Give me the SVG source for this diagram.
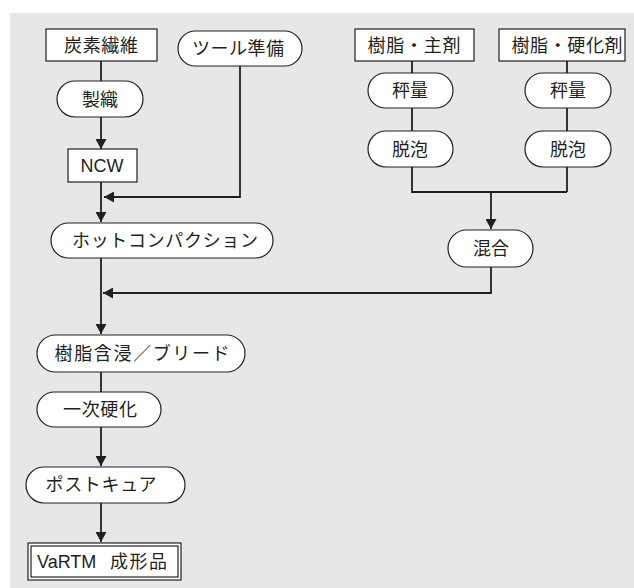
<svg xmlns="http://www.w3.org/2000/svg" width="634" height="588" viewBox="0 0 634 588">
<defs>
<style>
.bg{fill:#e6e7e8}
.n{fill:#fff;stroke:#231f20;stroke-width:1.2}
.t{font-family:"Noto Sans CJK JP","Noto Sans",sans-serif;font-size:18px;fill:#231f20;text-anchor:middle}
.s{font-family:"Noto Sans CJK JP","Noto Sans",sans-serif;font-size:18px;fill:#231f20}
.l{font-family:"Liberation Sans",Arial,sans-serif;font-size:18px;fill:#231f20;text-anchor:middle}
.c{fill:none;stroke:#231f20;stroke-width:1.8}
</style>
<marker id="ah" markerUnits="userSpaceOnUse" markerWidth="11" markerHeight="11" refX="10" refY="5.5" orient="auto" viewBox="0 0 11 11">
<path d="M0,0 L10,5.5 L0,11 z" fill="#231f20"/>
</marker>
</defs>
<rect class="bg" x="10" y="13" width="624" height="575"/>
<g id="connectors">
<path class="c" d="M101,61 V81"/>
<path class="c" d="M101,117 V149" marker-end="url(#ah)"/>
<path class="c" d="M101,182 V222" marker-end="url(#ah)"/>
<path class="c" d="M240,66 V197 H104" marker-end="url(#ah)"/>
<path class="c" d="M101,258 V334" marker-end="url(#ah)"/>
<path class="c" d="M491,267 V293 H103" marker-end="url(#ah)"/>
<path class="c" d="M412,61 V73 M412,108 V131 M412,167 V192 H567 M567,61 V73 M567,108 V131 M567,167 V192"/>
<path class="c" d="M491,192 V229" marker-end="url(#ah)"/>
<path class="c" d="M101,372 V392"/>
<path class="c" d="M101,427 V466" marker-end="url(#ah)"/>
<path class="c" d="M101,503 V542" marker-end="url(#ah)"/>
</g>
<g id="tanso">
<rect class="n" x="46" y="29" width="111" height="32"/>
<text class="t" x="101" y="52" textLength="74" lengthAdjust="spacing">炭素繊維</text>
</g>
<g id="tool">
<rect class="n" x="178" y="31" width="124" height="35" rx="17.5"/>
<text class="t" x="238" y="55" textLength="92" lengthAdjust="spacing">ツール準備</text>
</g>
<g id="seishoku">
<rect class="n" x="57" y="81" width="86" height="36" rx="18"/>
<text class="t" x="100" y="106" textLength="36" lengthAdjust="spacing">製織</text>
</g>
<g id="ncw">
<rect class="n" x="68" y="149" width="69" height="33"/>
<text class="l" x="102" y="172">NCW</text>
</g>
<g id="shuzai">
<rect class="n" x="355" y="29" width="119" height="32"/>
<text class="t" x="414" y="52" textLength="93" lengthAdjust="spacing">樹脂・主剤</text>
</g>
<g id="kokazai">
<rect class="n" x="499" y="29" width="126" height="32"/>
<text class="t" x="567" y="52" textLength="111" lengthAdjust="spacing">樹脂・硬化剤</text>
</g>
<g id="hyoryo1">
<rect class="n" x="368" y="73" width="85" height="35" rx="17.5"/>
<text class="t" x="410" y="97" textLength="36" lengthAdjust="spacing">秤量</text>
</g>
<g id="hyoryo2">
<rect class="n" x="525" y="73" width="86" height="35" rx="17.5"/>
<text class="t" x="568" y="97" textLength="36" lengthAdjust="spacing">秤量</text>
</g>
<g id="dappo1">
<rect class="n" x="368" y="131" width="85" height="36" rx="18"/>
<text class="t" x="410" y="156" textLength="36" lengthAdjust="spacing">脱泡</text>
</g>
<g id="dappo2">
<rect class="n" x="525" y="131" width="86" height="36" rx="18"/>
<text class="t" x="568" y="156" textLength="36" lengthAdjust="spacing">脱泡</text>
</g>
<g id="kongo">
<rect class="n" x="448" y="230" width="85" height="37" rx="18.5"/>
<text class="t" x="491" y="255" textLength="36" lengthAdjust="spacing">混合</text>
</g>
<g id="hot">
<rect class="n" x="51" y="223" width="222" height="35" rx="17.5"/>
<text class="t" x="165" y="247" textLength="186" lengthAdjust="spacing">ホットコンパクション</text>
</g>
<g id="ganshin">
<rect class="n" x="37" y="335" width="208" height="37" rx="18.5"/>
<text class="t" x="142" y="360" textLength="175" lengthAdjust="spacing">樹脂含浸／ブリード</text>
</g>
<g id="ichiji">
<rect class="n" x="37" y="392" width="124" height="35" rx="17.5"/>
<text class="t" x="100" y="416" textLength="74" lengthAdjust="spacing">一次硬化</text>
</g>
<g id="post">
<rect class="n" x="26" y="467" width="159" height="36" rx="18"/>
<text class="t" x="101" y="491" textLength="111" lengthAdjust="spacing">ポストキュア</text>
</g>
<g id="vartm">
<rect class="n" x="28" y="543" width="153" height="37"/>
<rect class="n" x="31" y="546" width="147" height="31"/>
<text class="l" x="37" y="568" style="text-anchor:start">VaRTM</text>
<text class="s" x="110" y="568" textLength="57" lengthAdjust="spacing">成形品</text>
</g>
</svg>
